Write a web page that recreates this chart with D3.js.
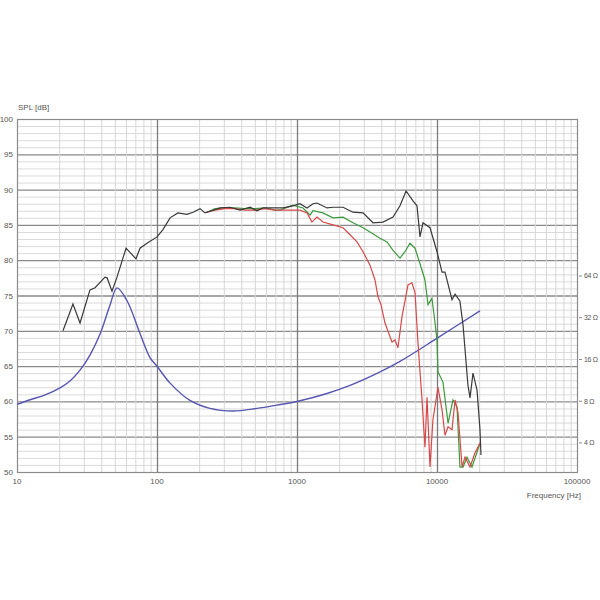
<!DOCTYPE html>
<html><head><meta charset="utf-8">
<script src="https://cdn.jsdelivr.net/npm/d3@7/dist/d3.min.js"></script>
<style>body{margin:0;background:#fff}svg{display:block}text{font-family:"Liberation Sans",Arial,sans-serif;fill:#555}</style>
</head><body><svg id="c" width="600" height="600"></svg>
<script>
// SPL curves: [frequency Hz, dB]
const splBlack = [[21.3,70.0],[25.1,73.8],[28.2,71.1],[33.2,75.8],[36.1,76.1],[42.5,77.6],[44.0,77.5],[47.7,75.6],[51.8,77.6],[60.1,81.7],[70.8,80.2],[75.6,81.7],[84.8,82.4],[100,83.3],[110,84.3],[124,86.0],[141,86.7],[164,86.5],[181,86.8],[203,87.3],[220,86.7],[247,87.0],[282,87.4],[332,87.5],[392,87.1],[462,87.5],[518,87.0],[572,87.4],[674,87.4],[794,87.4],[936,87.7],[1050,88.0],[1179,87.4],[1301,88.0],[1389,88.1],[1638,87.4],[1807,87.5],[2131,87.5],[2512,86.8],[2961,86.7],[3491,85.3],[4113,85.4],[4850,86.1],[5442,87.7],[6012,89.8],[6740,88.4],[7197,87.7],[7562,83.3],[7943,85.3],[8913,84.6],[10000,81.2],[10865,78.3],[11402,78.3],[12794,74.4],[13459,75.2],[14588,74.2],[15346,70.8],[16634,62.3],[17219,60.5],[18072,64.0],[19320,61.6],[20277,56.0],[20606,52.4]];
const splGreen = [[227,86.8],[259,87.3],[306,87.4],[361,87.4],[425,87.3],[501,87.3],[591,87.4],[696,87.1],[756,87.1],[936,87.8],[1104,87.4],[1238,86.4],[1301,87.0],[1534,86.7],[1807,86.0],[2131,86.1],[2512,85.3],[2961,84.6],[3322,84.0],[3915,83.1],[4395,82.6],[4850,81.4],[5442,80.3],[5904,81.2],[6412,82.4],[6966,81.7],[7562,79.5],[8204,77.2],[8630,73.7],[9204,74.6],[9683,71.1],[10000,68.7],[10162,64.2],[11041,62.7],[11995,56.9],[13002,60.2],[13899,59.2],[14588,50.7],[15346,50.7],[16368,52.1],[17783,50.7],[19011,52.4],[20277,54.1]];
const splRed = [[227,86.8],[259,87.1],[306,87.3],[361,87.3],[425,87.1],[501,87.1],[591,87.3],[696,87.1],[821,87.1],[1050,87.1],[1179,86.7],[1279,85.4],[1389,86.1],[1534,85.4],[1807,85.0],[2131,84.6],[2392,83.6],[2683,82.6],[2961,81.2],[3322,79.3],[3606,77.2],[3791,74.8],[3981,73.7],[4252,71.1],[4772,68.4],[5012,68.7],[5260,67.6],[5623,72.0],[6206,76.5],[6624,76.8],[6966,75.4],[7313,68.3],[7816,60.2],[8204,53.5],[8489,60.6],[8913,50.7],[9354,57.4],[10162,62.0],[10865,58.8],[11402,55.2],[11995,56.4],[12794,56.0],[13459,60.2],[14125,58.4],[15101,50.7],[15849,52.1],[17219,50.7],[18664,52.7],[20277,54.1]];
// Impedance curve: [frequency Hz, ohm]
const impedance = [[10,7.6],[12.4,8.2],[15.9,8.9],[20.3,10.0],[23.9,11.2],[28.2,13.4],[33.2,17.2],[39.2,24.4],[46.2,39.5],[51.8,52.5],[61.1,42.4],[75.6,24.6],[89.1,16.5],[100,14.3],[124,10.8],[172,8.1],[239,7.1],[349,6.8],[518,7.1],[720,7.5],[1016,8.0],[1638,9.1],[2392,10.4],[3727,12.7],[5442,15.5],[10162,23.0],[20277,35.9]];
const dbTicks = [50,55,60,65,70,75,80,85,90,95,100];
const freqTicks = [10,100,1000,10000,100000];
const freqLabels = ["10","100","1000","10000","100000"];
const ohmTicks = [4,8,16,32,64];

const svg = d3.select("#c");
const L=17,R=577,T=119,B=472;
const x = d3.scaleLog().domain([10,100000]).range([L,R]);
const y = d3.scaleLinear().domain([50,100]).range([B,T]);
const z = d3.scaleLog().base(2).domain([2.47,867]).range([B,T]);

const g = svg.append("g");
// horizontal grid (1 dB minor, 5 dB major)
g.selectAll(".hm").data(d3.range(51,100)).join("line")
  .attr("x1",L).attr("x2",R).attr("y1",d=>y(d)+0.5).attr("y2",d=>y(d)+0.5)
  .attr("stroke",d=>d%5===0?"#8a8a8a":"#dadada").attr("stroke-width",d=>d%5===0?1.3:1);
// vertical grid
const vmin=[];
for(let e=1;e<5;e++) for(let m=2;m<=9;m++) vmin.push(m*Math.pow(10,e));
g.selectAll(".vm").data(vmin).join("line")
  .attr("y1",T).attr("y2",B).attr("x1",d=>x(d)+0.5).attr("x2",d=>x(d)+0.5)
  .attr("stroke","#d6d6d6").attr("stroke-width",1);
g.selectAll(".vM").data(freqTicks.slice(1,4)).join("line")
  .attr("y1",T).attr("y2",B).attr("x1",d=>x(d)+0.5).attr("x2",d=>x(d)+0.5)
  .attr("stroke","#7a7a7a").attr("stroke-width",1.3);
// border
g.append("rect").attr("x",L+0.5).attr("y",T+0.5).attr("width",R-L).attr("height",B-T)
  .attr("fill","none").attr("stroke","#8a8a8a").attr("stroke-width",1.2);

// curves
const lineSpl = d3.line().x(d=>x(d[0])).y(d=>y(d[1]));
const lineZ = d3.line().x(d=>x(d[0])).y(d=>z(d[1])).curve(d3.curveCatmullRom);
svg.append("path").attr("d",lineZ(impedance)).attr("fill","none").attr("stroke","#5656b4").attr("stroke-width",1.4);
svg.append("path").attr("d",lineSpl(splGreen)).attr("fill","none").attr("stroke","#3c9a3c").attr("stroke-width",1.2);
svg.append("path").attr("d",lineSpl(splRed)).attr("fill","none").attr("stroke","#d84848").attr("stroke-width",1.2);
svg.append("path").attr("d",lineSpl(splBlack)).attr("fill","none").attr("stroke","#3a3a3a").attr("stroke-width",1.2);

// left axis labels
svg.selectAll(".yl").data(dbTicks).join("text")
  .attr("x",13).attr("y",d=>y(d)+3).attr("text-anchor","end").attr("font-size",8).text(d=>d);
svg.append("text").attr("x",18).attr("y",110).attr("font-size",8).text("SPL [dB]");
// bottom labels
svg.selectAll(".xl").data(freqTicks).join("text")
  .attr("x",d=>x(d)).attr("y",484).attr("text-anchor","middle").attr("font-size",8)
  .text((d,i)=>freqLabels[i]);
svg.append("text").attr("x",581).attr("y",498).attr("text-anchor","end").attr("font-size",8).text("Frequency [Hz]");
// right impedance axis
svg.selectAll(".zt").data(ohmTicks).join("line")
  .attr("x1",579).attr("x2",582).attr("y1",d=>z(d)).attr("y2",d=>z(d)).attr("stroke","#888");
svg.selectAll(".zl").data(ohmTicks).join("text")
  .attr("x",584).attr("y",d=>z(d)+2.5).attr("font-size",7).attr("letter-spacing",-0.3).text(d=>d+" Ω");
</script></body></html>
